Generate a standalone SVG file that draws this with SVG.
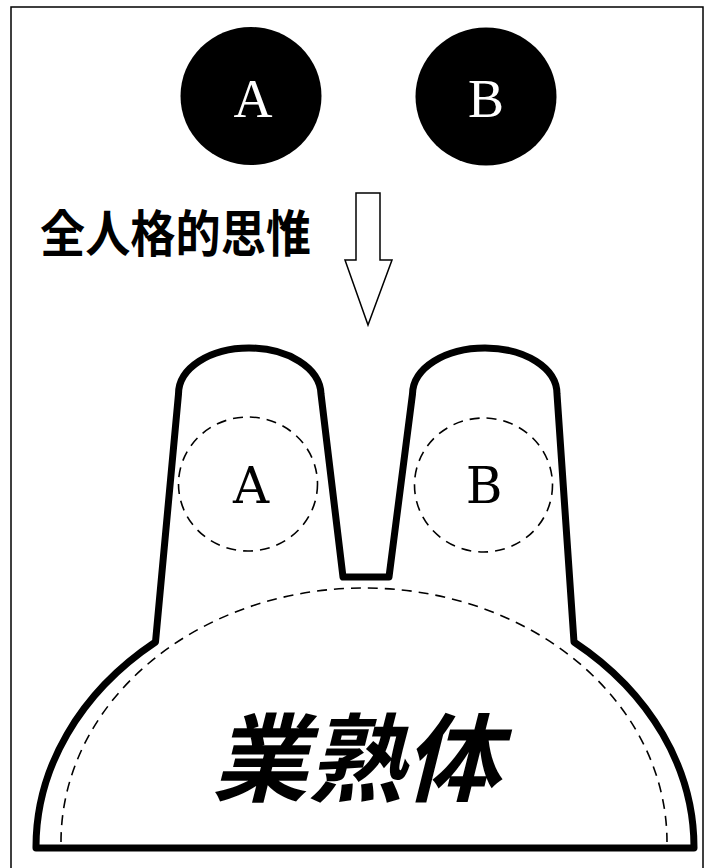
<svg xmlns="http://www.w3.org/2000/svg" width="707" height="868" viewBox="0 0 707 868">
<style>
.frame{fill:none;stroke:#000;stroke-width:1.5}
.dark{fill:#000}
.wl{fill:#fff;font-family:"Liberation Serif",serif;font-size:54px;text-anchor:middle}
.dash{fill:none;stroke:#000;stroke-width:1.6;stroke-dasharray:10 7}
.thick{fill:#fff;stroke:#000;stroke-width:7;stroke-linejoin:round}
.sl{fill:#000;font-family:"DejaVu Serif","Liberation Serif",serif;font-size:50px;text-anchor:middle}
.cjk{fill:#000;font-family:"Noto Sans CJK JP","Noto Sans CJK SC",sans-serif;font-weight:bold}
</style>
<rect x="0" y="0" width="707" height="868" fill="#fff"/>
<rect class="frame" x="11" y="7" width="692" height="870"/>
<g id="circleA"><ellipse class="dark" cx="251" cy="96" rx="70.5" ry="69"/><text class="wl" x="253" y="117">A</text></g>
<g id="circleB"><ellipse class="dark" cx="486" cy="96.5" rx="70.5" ry="69"/><text class="wl" x="486" y="117">B</text></g>
<g id="label"><text class="cjk" x="40" y="252" font-size="50" textLength="271" lengthAdjust="spacingAndGlyphs">全人格的思惟</text></g>
<g id="connectors">
<polygon points="356,193 380,193 380,260 392,260 368,325 345,260 356,260" fill="#fff" stroke="#000" stroke-width="1.5" stroke-linejoin="miter"/>
</g>
<g id="body">
<path class="thick" d="M155.5,642 L178.5,394 C178.5,368 210,348 249,348 C288,348 320,368 321,394 L343,577 L389,577 L412.5,394 C413,368 445,348 485,348 C525,348 557,368 557,394 L574,642 A329,266 0 0 1 694,848 L36,848 A329,266 0 0 1 155.5,642 Z"/>
<path class="dash" d="M61,842 A303,254 0 0 1 667,842"/>
<g id="dashedA"><ellipse class="dash" cx="248" cy="484" rx="69.5" ry="67"/><text class="sl" x="251" y="503">A</text></g>
<g id="dashedB"><ellipse class="dash" cx="483.5" cy="485" rx="69" ry="67"/><text class="sl" x="484" y="503">B</text></g>
<g id="bodyLabel" transform="translate(356,794) skewX(-14)"><text class="cjk" x="0" y="0" font-size="96" text-anchor="middle" textLength="288" lengthAdjust="spacingAndGlyphs">業熟体</text></g>
</g>
</svg>
